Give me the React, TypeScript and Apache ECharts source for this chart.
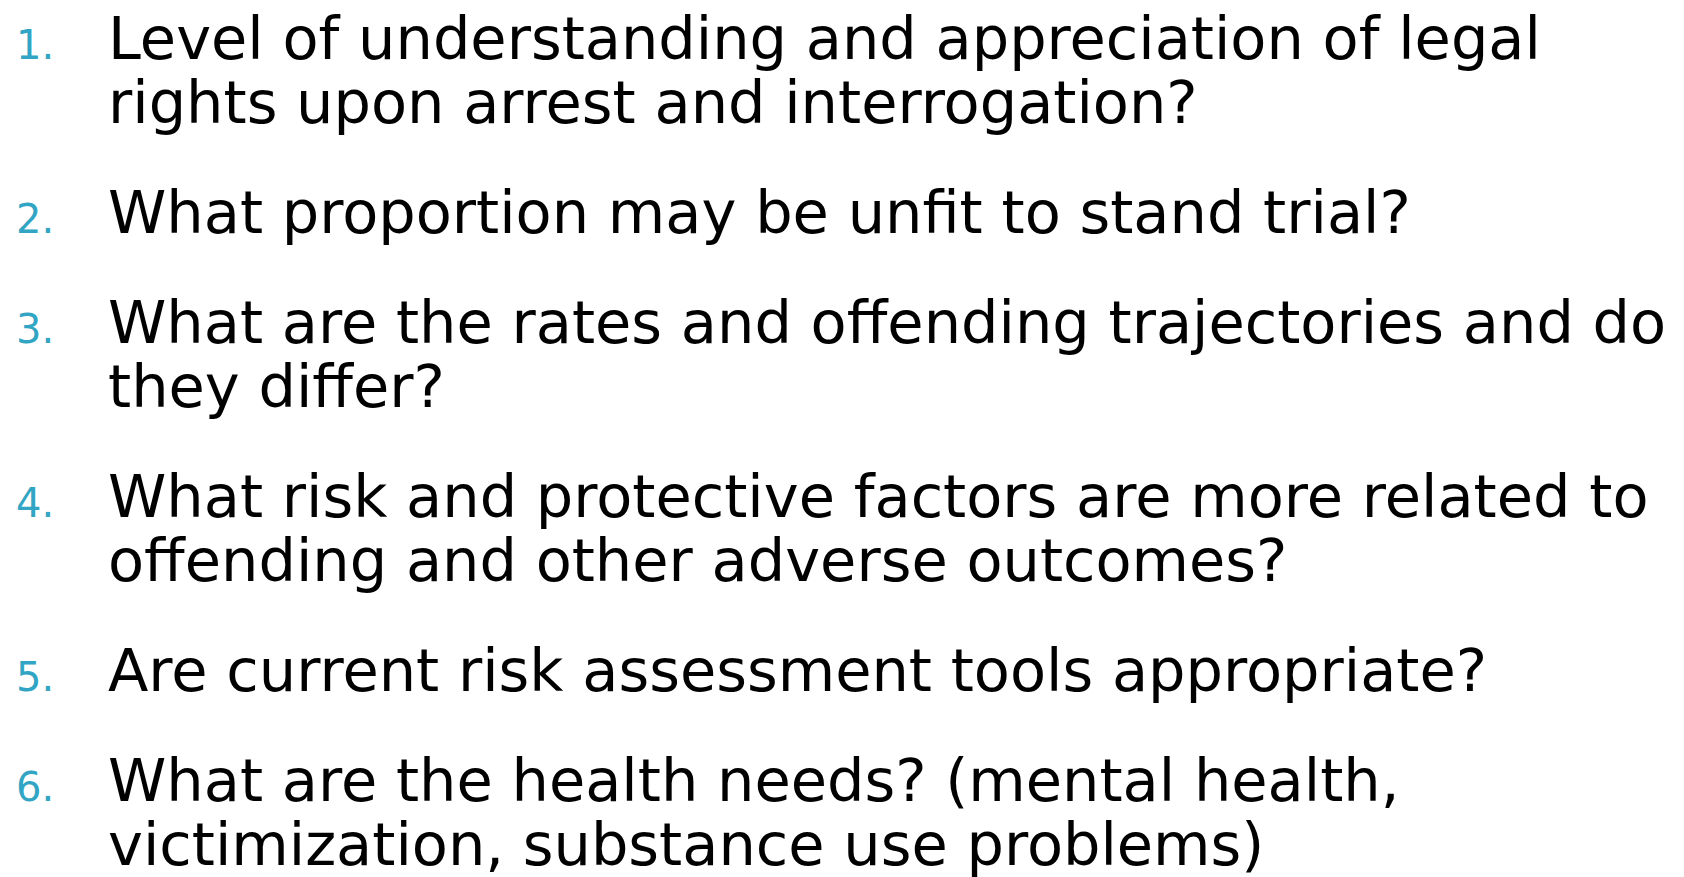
import React, { useEffect, useRef } from "react";
import * as echarts from "echarts";

const numbers = ["1.", "2.", "3.", "4.", "5.", "6."];
const itemLines: string[][] = [
  ["Level of understanding and appreciation of legal", "rights upon arrest and interrogation?"],
  ["What proportion may be unfit to stand trial?"],
  ["What are the rates and offending trajectories and do", "they differ?"],
  ["What risk and protective factors are more related to", "offending and other adverse outcomes?"],
  ["Are current risk assessment tools appropriate?"],
  ["What are the health needs? (mental health,", "victimization, substance use problems)"],
];

const W = 1684;
const H = 877;
const TEXT_X = 108;
const NUM_X = 16;
const FIRST_BASELINE = 59;
const LINE_STEP = 64;
const ITEM_GAP = 110;
const FONT = "'DejaVu Sans', sans-serif";
const MAIN_SIZE = 59;
const NUM_SIZE = 40;
const TEAL = "#31A5C3";

export default function App() {
  const ref = useRef<HTMLDivElement>(null);
  useEffect(() => {
    if (!ref.current) return;
    const chart = echarts.init(ref.current, null, { renderer: "svg" });
    const elements: any[] = [];
    let baseline = FIRST_BASELINE;
    itemLines.forEach((lines, i) => {
      elements.push({
        type: "text",
        x: NUM_X,
        y: baseline - NUM_SIZE * 0.346,
        style: {
          text: numbers[i],
          fill: TEAL,
          font: `${NUM_SIZE}px ${FONT}`,
          lineHeight: NUM_SIZE,
          align: "left",
          verticalAlign: "middle",
        },
      });
      lines.forEach((line, j) => {
        elements.push({
          type: "text",
          x: TEXT_X,
          y: baseline - MAIN_SIZE * 0.346,
          style: {
            text: line,
            fill: "#000000",
            font: `${MAIN_SIZE}px ${FONT}`,
            lineHeight: 56,
            align: "left",
            verticalAlign: "middle",
          },
        });
        if (j < lines.length - 1) baseline += LINE_STEP;
      });
      baseline += ITEM_GAP;
    });
    chart.setOption({
      animation: false,
      backgroundColor: "#ffffff",
      graphic: { elements },
    });
    return () => chart.dispose();
  }, []);
  return (
    <div
      ref={ref}
      style={{ position: "fixed", left: 0, top: 0, width: W, height: H, background: "#fff" }}
    />
  );
}
